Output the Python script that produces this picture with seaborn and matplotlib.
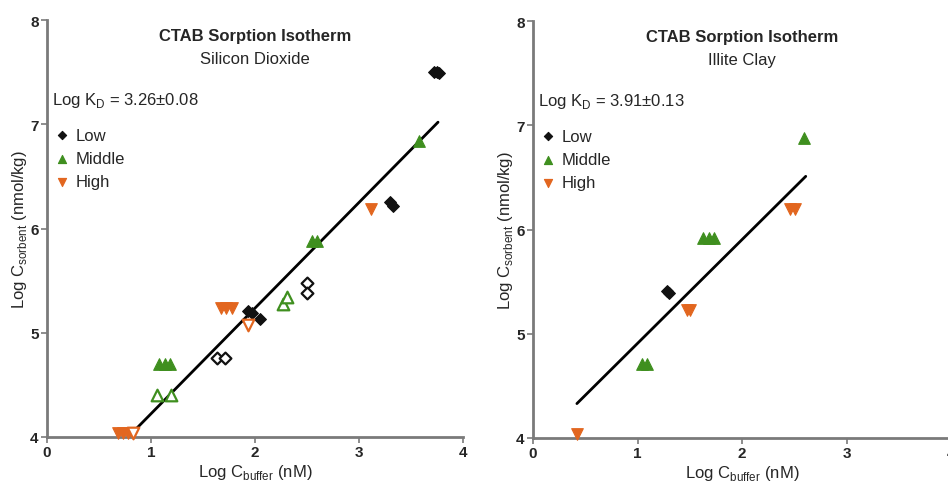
import matplotlib
matplotlib.use("Agg")
import matplotlib.pyplot as plt
import seaborn as sns

# Silicon dioxide panel
sio2_low_x = [3.72, 3.75, 3.77, 3.30, 3.33, 1.93, 1.97, 2.05]
sio2_low_y = [7.50, 7.50, 7.49, 6.25, 6.22, 5.21, 5.19, 5.13]
sio2_low_open_x = [1.63, 1.71, 2.50, 2.50]
sio2_low_open_y = [4.76, 4.76, 5.48, 5.38]
sio2_mid_x = [3.58, 2.55, 2.60, 1.08, 1.13, 1.18]
sio2_mid_y = [6.84, 5.88, 5.88, 4.70, 4.70, 4.70]
sio2_mid_open_x = [1.06, 1.19, 2.27, 2.31]
sio2_mid_open_y = [4.40, 4.40, 5.28, 5.34]
sio2_high_x = [3.12, 1.67, 1.72, 1.78, 0.68, 0.73, 0.78]
sio2_high_y = [6.19, 5.24, 5.24, 5.24, 4.04, 4.04, 4.04]
sio2_high_open_x = [1.93, 0.83]
sio2_high_open_y = [5.07, 4.04]
sio2_fit_x = [0.78, 3.76]
sio2_fit_y = [4.00, 7.02]

# Illite clay panel
illite_low_x = [1.28, 1.30]
illite_low_y = [5.41, 5.39]
illite_mid_x = [1.04, 1.09, 1.63, 1.68, 1.73, 2.59]
illite_mid_y = [4.71, 4.71, 5.92, 5.92, 5.92, 6.88]
illite_high_x = [0.42, 1.47, 1.50, 2.46, 2.51]
illite_high_y = [4.04, 5.23, 5.23, 6.20, 6.20]
illite_fit_x = [0.42, 2.61]
illite_fit_y = [4.33, 6.51]

titles = ["Silicon Dioxide", "Illite Clay"]
kd_labels = [r"Log K$_\mathrm{D}$ = 3.26$\pm$0.08", r"Log K$_\mathrm{D}$ = 3.91$\pm$0.13"]

BLACK = "#111111"
GREEN = "#3f8f1f"
ORANGE = "#e2661f"
SPINE = "#7a7a7a"

sns.set_style("ticks")
plt.rcParams["font.family"] = ["Liberation Sans", "DejaVu Sans"]
plt.rcParams["mathtext.fontset"] = "custom"
plt.rcParams["mathtext.rm"] = "Liberation Sans"

fig = plt.figure(figsize=(9.48, 4.89), dpi=100)
ax1 = fig.add_axes([47 / 948, 51 / 489, 416 / 948, 417 / 489])
ax2 = fig.add_axes([533 / 948, 50 / 489, 418 / 948, 417 / 489])


def pts(ax, x, y, marker, color, size, filled=True, label=None):
    if filled:
        sns.scatterplot(x=x, y=y, marker=marker, color=color, edgecolor=color,
                        s=size, linewidth=0.8, ax=ax, clip_on=False, zorder=3,
                        label=label)
    else:
        sns.scatterplot(x=x, y=y, marker=marker, color="white", edgecolor=color,
                        s=size, linewidth=1.6, ax=ax, clip_on=False, zorder=3)


panels = [
    (ax1, (sio2_low_x, sio2_low_y), (sio2_mid_x, sio2_mid_y), (sio2_high_x, sio2_high_y),
     (sio2_fit_x, sio2_fit_y)),
    (ax2, (illite_low_x, illite_low_y), (illite_mid_x, illite_mid_y),
     (illite_high_x, illite_high_y), (illite_fit_x, illite_fit_y)),
]

for i, (ax, low, mid, high, fit) in enumerate(panels):
    sns.lineplot(x=fit[0], y=fit[1], color="black", linewidth=2, ax=ax, zorder=2)
    pts(ax, low[0], low[1], "D", BLACK, 36, label="Low")
    pts(ax, mid[0], mid[1], "^", GREEN, 70, label="Middle")
    pts(ax, high[0], high[1], "v", ORANGE, 70, label="High")
    if i == 0:
        pts(ax, sio2_low_open_x, sio2_low_open_y, "D", BLACK, 36, filled=False)
        pts(ax, sio2_mid_open_x, sio2_mid_open_y, "^", GREEN, 70, filled=False)
        pts(ax, sio2_high_open_x, sio2_high_open_y, "v", ORANGE, 70, filled=False)

    ax.set_xlim(0, 4)
    ax.set_ylim(4, 8)
    ax.set_xticks([0, 1, 2, 3, 4])
    ax.set_yticks([4, 5, 6, 7, 8])
    sns.despine(ax=ax)
    for side in ["left", "bottom"]:
        ax.spines[side].set_color(SPINE)
        ax.spines[side].set_linewidth(2)
    ax.tick_params(length=4, width=1.2, color=SPINE, labelsize=11, pad=2)
    for lab in ax.get_xticklabels() + ax.get_yticklabels():
        lab.set_fontweight("bold")

    ax.set_xlabel(r"Log C$_\mathrm{buffer}$ (nM)", fontsize=12, labelpad=2)
    ax.set_ylabel(r"Log C$_\mathrm{sorbent}$ (nmol/kg)", fontsize=12, labelpad=1)

    ax.text(0.5, 0.962, "CTAB Sorption Isotherm", transform=ax.transAxes,
            ha="center", va="center", fontsize=12, fontweight="bold")
    ax.text(0.5, 0.907, titles[i], transform=ax.transAxes,
            ha="center", va="center", fontsize=12)
    ax.text(0.012, 0.81, kd_labels[i], transform=ax.transAxes,
            ha="left", va="center", fontsize=12)

    ax.legend(loc="upper left", bbox_to_anchor=(-0.005, 0.758), frameon=False,
              fontsize=12, handletextpad=0.25, labelspacing=0.5, markerscale=0.7,
              borderaxespad=0, handlelength=1.2)

fig.savefig("out.png", dpi=100)
